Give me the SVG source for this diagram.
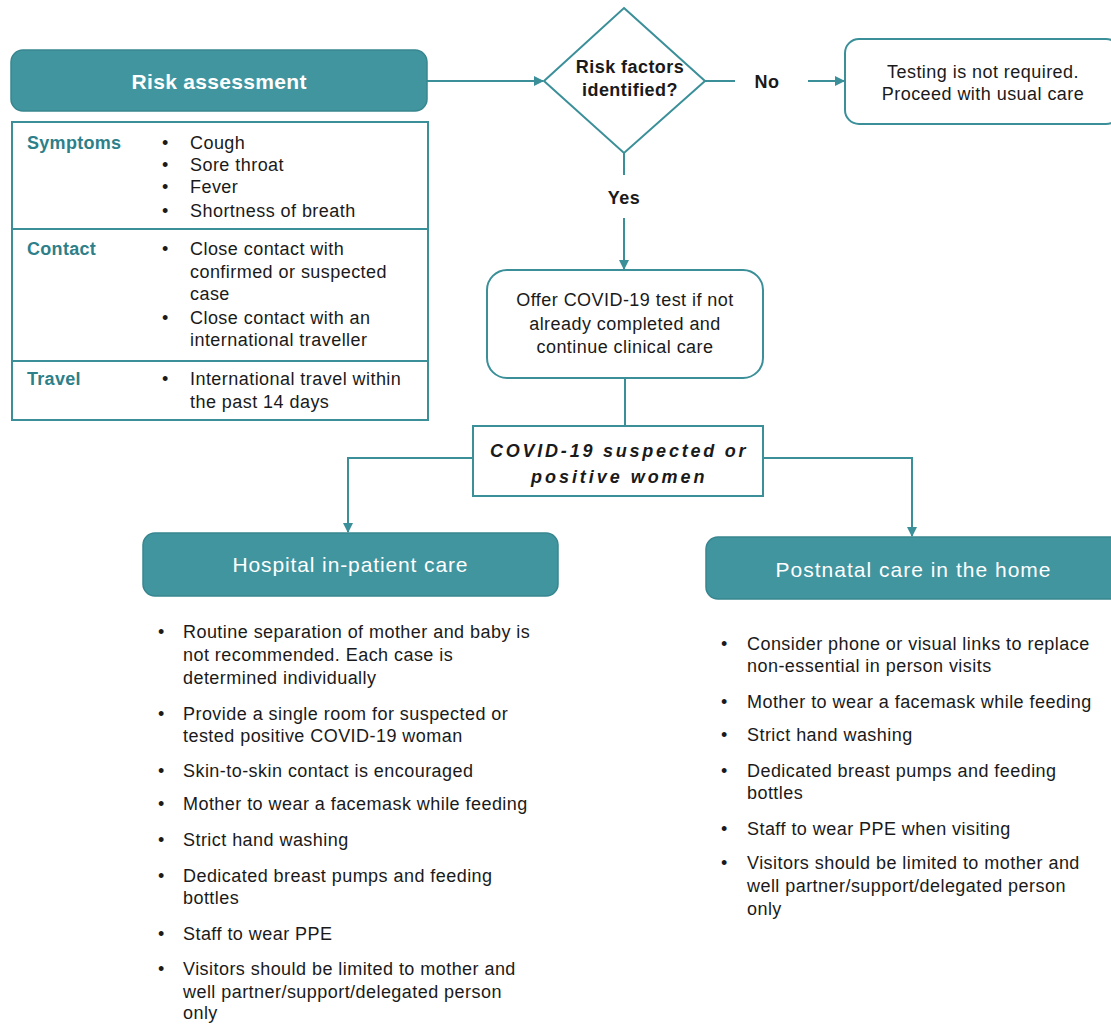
<svg xmlns="http://www.w3.org/2000/svg" width="1111" height="1024" viewBox="0 0 1111 1024">
<style>
.hdr{fill:#40959f;stroke:#37868f;stroke-width:1.5}
.hdrt{fill:#fff;font-family:"Liberation Sans",Arial,sans-serif;font-size:21px;text-anchor:middle}
.box{fill:#fff;stroke:#3a8f99;stroke-width:2}
.t{fill:#1a1a1a;font-family:"Liberation Sans",Arial,sans-serif;font-size:18px;letter-spacing:0.45px}
.c{text-anchor:middle}
.lab{fill:#2d7f89;font-family:"Liberation Sans",Arial,sans-serif;font-size:18px;font-weight:bold;letter-spacing:0.3px}
.b{font-weight:bold}
.con{fill:none;stroke:#3a8f99;stroke-width:2}
</style>
<defs>
<marker id="ah" markerWidth="10" markerHeight="10" refX="9" refY="5" orient="auto" markerUnits="userSpaceOnUse">
<path d="M0,0 L10,5 L0,10 z" fill="#3a8f99"/>
</marker>
</defs>
<rect width="1111" height="1024" fill="#fff"/>

<g id="connectors">
<line class="con" x1="427" y1="81" x2="543" y2="81" marker-end="url(#ah)"/>
<line class="con" x1="705" y1="81" x2="735" y2="81"/>
<line class="con" x1="808" y1="81" x2="844" y2="81" marker-end="url(#ah)"/>
<line class="con" x1="624" y1="153" x2="624" y2="175"/>
<line class="con" x1="624" y1="218" x2="624" y2="269" marker-end="url(#ah)"/>
<line class="con" x1="625" y1="378" x2="625" y2="426"/>
<polyline class="con" points="473,458 348,458 348,532" marker-end="url(#ah)"/>
<polyline class="con" points="763,458 912,458 912,536" marker-end="url(#ah)"/>
</g>

<g id="risk-assessment">
<rect class="hdr" x="11" y="50" width="416" height="61" rx="12"/>
<text class="hdrt" x="219" y="89" font-weight="bold" textLength="175" lengthAdjust="spacing">Risk assessment</text>
</g>

<g id="risk-table">
<rect class="box" x="12" y="122" width="416" height="298"/>
<line class="con" x1="12" y1="229" x2="428" y2="229"/>
<line class="con" x1="12" y1="361" x2="428" y2="361"/>
<text class="lab" x="27" y="149">Symptoms</text>
<text class="lab" x="27" y="255">Contact</text>
<text class="lab" x="27" y="385">Travel</text>
<g class="t">
<text x="162" y="149">•</text><text x="190" y="149">Cough</text>
<text x="162" y="171">•</text><text x="190" y="171">Sore throat</text>
<text x="162" y="193">•</text><text x="190" y="193">Fever</text>
<text x="162" y="217">•</text><text x="190" y="217">Shortness of breath</text>
<text x="162" y="255">•</text><text x="190" y="255">Close contact with</text>
<text x="190" y="278">confirmed or suspected</text>
<text x="190" y="300">case</text>
<text x="162" y="324">•</text><text x="190" y="324">Close contact with an</text>
<text x="190" y="346">international traveller</text>
<text x="162" y="385">•</text><text x="190" y="385">International travel within</text>
<text x="190" y="408">the past 14 days</text>
</g>
</g>

<g id="decision">
<polygon class="box" points="624,8 705,81 624,153 544,81"/>
<text class="t b c" x="630" y="73">Risk factors</text>
<text class="t b c" x="630" y="96">identified?</text>
</g>

<g id="label-no"><text class="t b c" x="767" y="88" font-size="19">No</text></g>
<g id="label-yes"><text class="t b c" x="624" y="204" font-size="19">Yes</text></g>

<g id="no-testing">
<rect class="box" x="845" y="39" width="275" height="85" rx="14"/>
<text class="t c" x="983" y="78">Testing is not required.</text>
<text class="t c" x="983" y="100">Proceed with usual care</text>
</g>

<g id="offer-test">
<rect class="box" x="487" y="270" width="276" height="108" rx="20"/>
<text class="t c" x="625" y="306">Offer COVID-19 test if not</text>
<text class="t c" x="625" y="330">already completed and</text>
<text class="t c" x="625" y="353">continue clinical care</text>
</g>

<g id="covid-women">
<rect class="box" x="473" y="426" width="290" height="70"/>
<text class="t b" x="490" y="457" font-style="italic" textLength="256" lengthAdjust="spacing">COVID-19 suspected or</text>
<text class="t b" x="531" y="483" font-style="italic" textLength="174" lengthAdjust="spacing">positive women</text>
</g>

<g id="hospital">
<rect class="hdr" x="143" y="533" width="415" height="63" rx="12"/>
<text class="hdrt" x="350" y="572" textLength="235" lengthAdjust="spacing">Hospital in-patient care</text>
<g class="t">
<text x="158" y="638">•</text><text x="183" y="638">Routine separation of mother and baby is</text>
<text x="183" y="661">not recommended. Each case is</text>
<text x="183" y="684">determined individually</text>
<text x="158" y="720">•</text><text x="183" y="720">Provide a single room for suspected or</text>
<text x="183" y="742">tested positive COVID-19 woman</text>
<text x="158" y="777">•</text><text x="183" y="777">Skin-to-skin contact is encouraged</text>
<text x="158" y="810">•</text><text x="183" y="810">Mother to wear a facemask while feeding</text>
<text x="158" y="846">•</text><text x="183" y="846">Strict hand washing</text>
<text x="158" y="882">•</text><text x="183" y="882">Dedicated breast pumps and feeding</text>
<text x="183" y="904">bottles</text>
<text x="158" y="940">•</text><text x="183" y="940">Staff to wear PPE</text>
<text x="158" y="975">•</text><text x="183" y="975">Visitors should be limited to mother and</text>
<text x="183" y="998">well partner/support/delegated person</text>
<text x="183" y="1019">only</text>
</g>
</g>

<g id="postnatal">
<rect class="hdr" x="706" y="537" width="420" height="62" rx="12"/>
<text class="hdrt" x="913" y="577" textLength="275" lengthAdjust="spacing">Postnatal care in the home</text>
<g class="t">
<text x="721" y="650">•</text><text x="747" y="650">Consider phone or visual links to replace</text>
<text x="747" y="672">non-essential in person visits</text>
<text x="721" y="708">•</text><text x="747" y="708">Mother to wear a facemask while feeding</text>
<text x="721" y="741">•</text><text x="747" y="741">Strict hand washing</text>
<text x="721" y="777">•</text><text x="747" y="777">Dedicated breast pumps and feeding</text>
<text x="747" y="799">bottles</text>
<text x="721" y="835">•</text><text x="747" y="835">Staff to wear PPE when visiting</text>
<text x="721" y="869">•</text><text x="747" y="869">Visitors should be limited to mother and</text>
<text x="747" y="892">well partner/support/delegated person</text>
<text x="747" y="915">only</text>
</g>
</g>
</svg>
